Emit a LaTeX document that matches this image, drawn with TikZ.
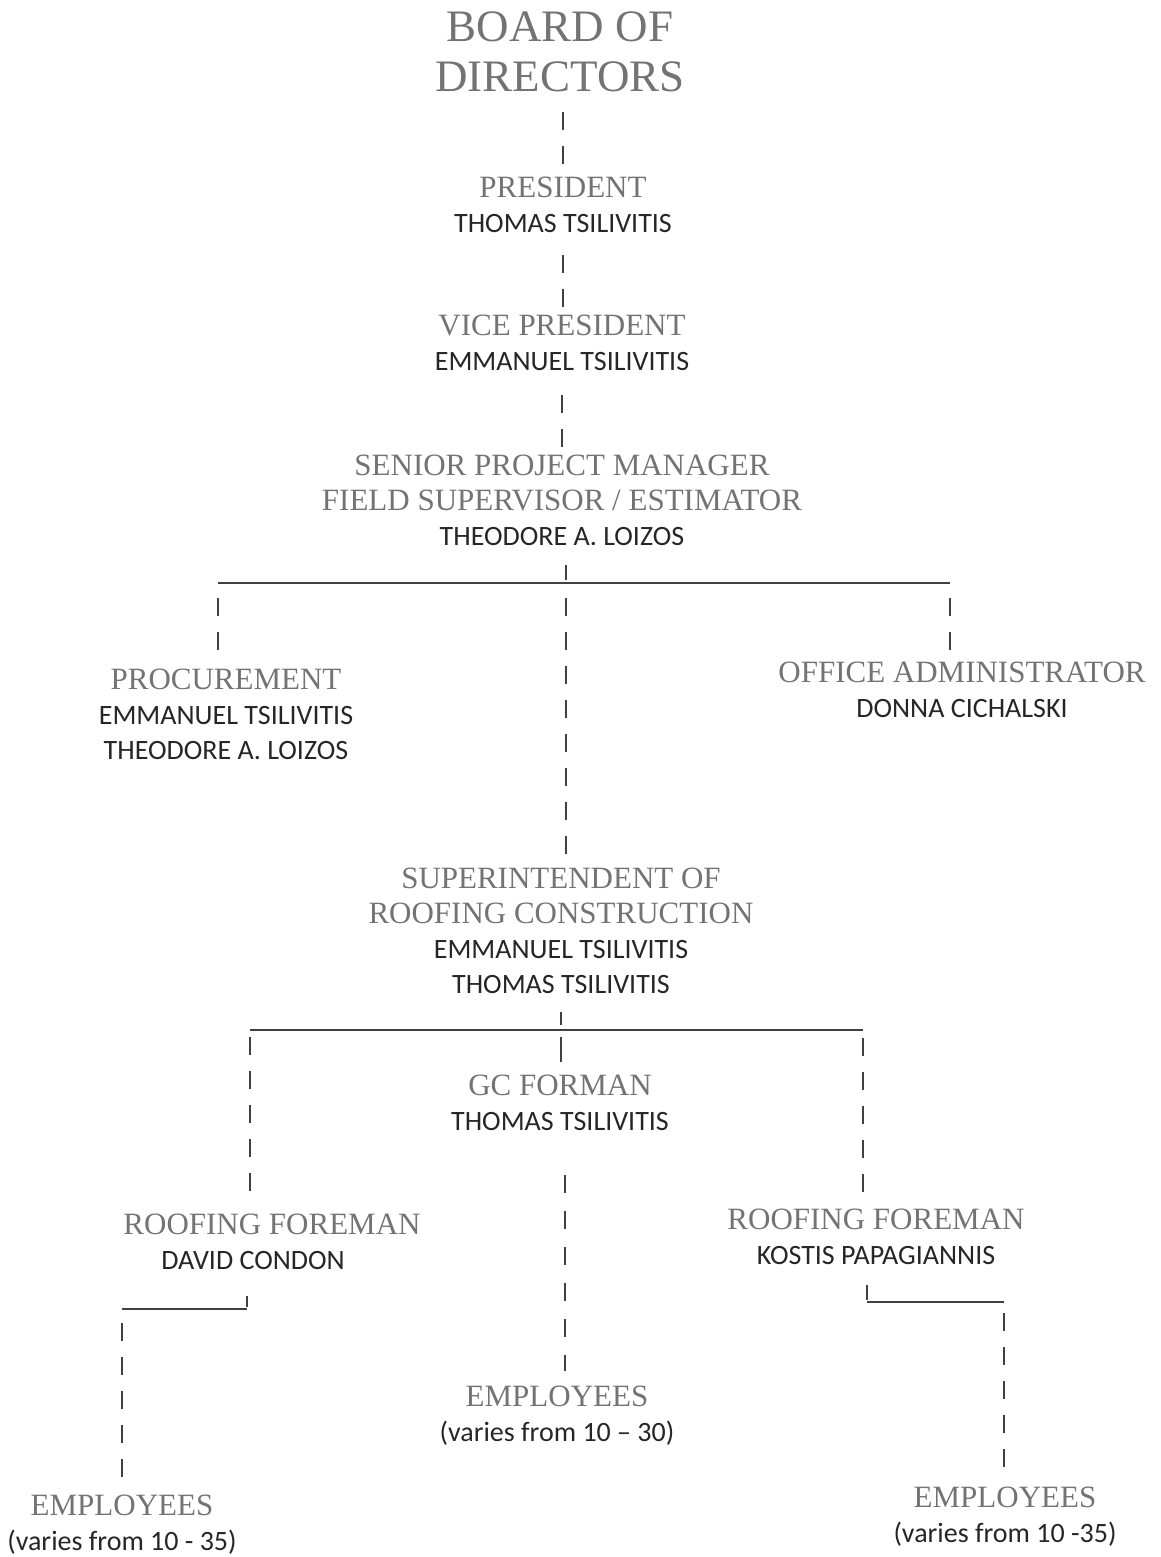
\documentclass[tikz,border=0pt]{standalone}
\usepackage{fontspec}
\newfontfamily\titlefont{Liberation Serif}
\newfontfamily\namefont{Carlito}
\newcommand{\person}[1]{{\namefont\fontsize{14}{17.5}\selectfont\color{black!85}#1}}
\usepackage{tikz}

\begin{document}
\begin{tikzpicture}[x=0.5pt,y=-0.5pt,
    rolebox/.style={inner sep=0pt,outer sep=0pt,anchor=north,align=center,
      text=black!55,font=\titlefont\fontsize{15.5}{17.5}\selectfont},
    link/.style={draw=black!75,line width=0.9pt,dash pattern=on 9pt off 8pt},
    bar/.style={draw=black!75,line width=0.7pt}]
		\useasboundingbox (0,0) rectangle (1161,1557);
		% top of the chart
		\node[rolebox,font=\titlefont\fontsize{22.5}{25}\selectfont] (board) at (560,12) {BOARD OF\\DIRECTORS};
		\node[rolebox] (pres) at (563,177) {PRESIDENT\\\person{THOMAS TSILIVITIS}};
		\node[rolebox] (vp) at (562,315) {VICE PRESIDENT\\\person{EMMANUEL TSILIVITIS}};
		\node[rolebox] (spm) at (562,455) {SENIOR PROJECT MANAGER\\FIELD SUPERVISOR / ESTIMATOR\\\person{THEODORE A. LOIZOS}};
		\draw[link,shorten <=10pt,shorten >=2pt] (pres.north |- board.south) -- (pres.north);
		\draw[link,shorten <=11pt,shorten >=2pt] (pres.south) -- (pres.south |- vp.north);
		\draw[link,shorten <=12pt,shorten >=2pt] (vp.south) -- (vp.south |- spm.north);
		% first split
		\coordinate (j1) at (566,583);
		\coordinate (j1l) at (218,583);
		\coordinate (j1r) at (950,583);
		\node[rolebox] (proc) at (226,669) {PROCUREMENT\\\person{EMMANUEL TSILIVITIS}\\\person{THEODORE A. LOIZOS}};
		\node[rolebox] (office) at (962,662) {OFFICE ADMINISTRATOR\\\person{DONNA CICHALSKI}};
		\node[rolebox] (super) at (561,868) {SUPERINTENDENT OF\\ROOFING CONSTRUCTION\\\person{EMMANUEL TSILIVITIS}\\\person{THOMAS TSILIVITIS}};
		\draw[bar] (j1l) -- (j1r);
		\draw[link,shorten <=9.5pt,shorten >=1.5pt] (j1 |- spm.south) -- (j1);
		\draw[link,shorten <=7.5pt,shorten >=9.5pt] (j1l) -- (j1l |- proc.north);
		\draw[link,shorten <=7.5pt,shorten >=7pt] (j1) -- (j1 |- super.north);
		\draw[link,shorten <=7.5pt,shorten >=6pt] (j1r) -- (j1r |- office.north);
		% second split
		\coordinate (j2) at (561,1030);
		\coordinate (j2l) at (250,1030);
		\coordinate (j2r) at (863,1030);
		\node[rolebox] (gc) at (560,1075) {GC FORMAN\\\person{THOMAS TSILIVITIS}};
		\node[rolebox] (rfl) at (272,1214) {ROOFING FOREMAN\\\person{DAVID CONDON}\hspace*{19pt}};
		\node[rolebox] (rfr) at (876,1209) {ROOFING FOREMAN\\\person{KOSTIS PAPAGIANNIS}};
		\draw[bar] (j2l) -- (j2r);
		\draw[link,shorten <=9pt,shorten >=2.5pt] (j2 |- super.south) -- (j2);
		\draw[link,dash pattern=on 13pt off 8pt,shorten <=3.5pt,shorten >=6.5pt] (j2) -- (j2 |- gc.north);
		\draw[link,shorten <=3.5pt,shorten >=11.5pt] (j2l) -- (j2l |- rfl.north);
		\draw[link,shorten <=4pt,shorten >=8.5pt] (j2r) -- (j2r |- rfr.north);
		% employees
		\coordinate (j3) at (247,1309);
		\coordinate (j3l) at (122,1309);
		\coordinate (j4) at (867,1302);
		\coordinate (j4r) at (1004,1302);
		\node[rolebox] (empl) at (122,1495) {EMPLOYEES\\\person{(varies from 10 - 35)}};
		\node[rolebox] (empm) at (557,1386) {EMPLOYEES\\\person{(varies from 10 – 30)}};
		\node[rolebox] (empr) at (1005,1487) {EMPLOYEES\\\person{(varies from 10 -35)}};
		\draw[bar] (j3l) -- (j3);
		\draw[bar] (j4) -- (j4r);
		\draw[link,shorten <=13pt,shorten >=1pt] (j3 |- rfl.south) -- (j3);
		\draw[link,shorten <=10pt,shorten >=1pt] (j4 |- rfr.south) -- (j4);
		\draw[link,dash pattern=on 9pt off 9pt,shorten <=22pt,shorten >=7.5pt] (565,0 |- gc.south) -- (565,0 |- empm.north);
		\draw[link,shorten <=7pt,shorten >=9pt] (j3l) -- (j3l |- empl.north);
		\draw[link,shorten <=5.5pt,shorten >=10pt] (j4r) -- (j4r |- empr.north);
	\end{tikzpicture}
\end{document}
